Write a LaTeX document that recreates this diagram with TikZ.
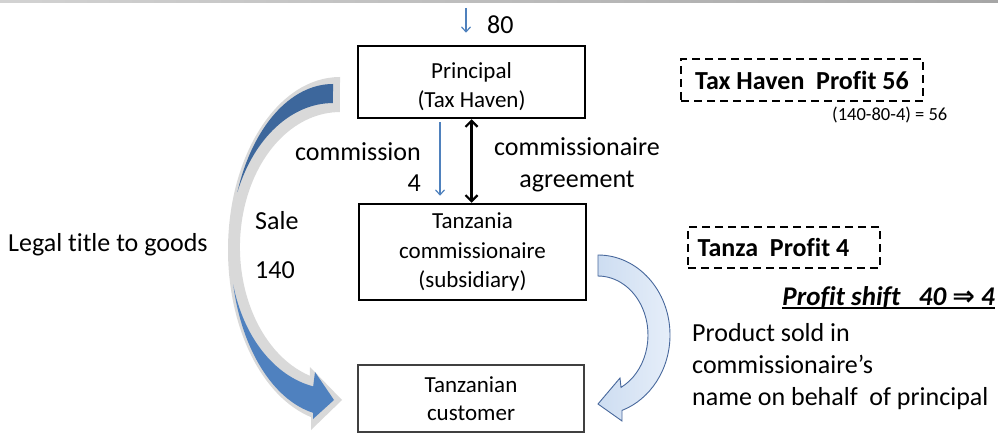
\documentclass[tikz,border=0pt]{standalone}
\usepackage{fontspec}
\setmainfont{Carlito}[Ligatures=NoCommon]
\newfontfamily\symfont{DejaVu Sans}
\usetikzlibrary{arrows.meta,calc}

\definecolor{arrowblue}{RGB}{79,129,189}
\definecolor{darkblue}{RGB}{61,103,156}
\definecolor{midblue}{RGB}{79,129,191}
\definecolor{halo}{RGB}{217,217,217}
\definecolor{paleblueA}{RGB}{205,221,241}
\definecolor{paleblueB}{RGB}{230,238,249}
\definecolor{outlineblue}{RGB}{72,104,156}

\tikzset{
  lbl/.style={inner sep=0pt, font=\fontsize{26}{31}\selectfont},
  solidbox/.style={draw, line width=2.5pt, minimum width=227pt, align=center,
    inner sep=0pt, font=\fontsize{23}{29.5}\selectfont},
  thinbox/.style={draw=black!75, line width=1.2pt, minimum width=226pt, align=center,
    inner sep=0pt, font=\fontsize{23}{28}\selectfont},
  dashbox/.style={draw, line width=1.8pt, dash pattern=on 8pt off 5pt, align=center,
    inner xsep=0pt, inner ysep=0pt, font=\fontsize{26}{31}\selectfont\bfseries},
  flow/.style={draw=arrowblue, line width=1.2pt, -{Straight Barb[length=5pt,width=9pt]}},
  agree/.style={draw=black, line width=2.2pt,
    {Straight Barb[length=6pt,width=12pt]}-{Straight Barb[length=6pt,width=12pt]}},
}

\begin{document}
\begin{tikzpicture}[x=1pt,y=1pt]
\useasboundingbox (0,0) rectangle (998,-433);

% thin shaded rule along the top edge
\shade[left color=gray!35, right color=gray!70] (0,0) rectangle (998,-3);

% boxes
\node[solidbox, minimum height=72pt] (principal) at (471.5,-82)
  {\rule{0pt}{25pt}Principal\\(Tax Haven)};
\node[solidbox, minimum height=96pt] (tanz) at (472.5,-252) {Tanzania\\commissionaire\\(subsidiary)};
\node[thinbox, minimum height=67pt] (cust) at (471,-398.5) {Tanzanian\\customer};

% incoming payment of 80
\coordinate (in1) at (466,-8);
\coordinate (in2) at ($(principal.north)+(-5.5,12)$);
\draw[flow] (in1) -- (in2);
\node[lbl, anchor=west] (eighty) at (487,-25) {80};

% commission and agreement between the two companies
\coordinate (cm1) at ($(principal.south)+(-31.5,-3)$);
\coordinate (cm2) at ($(tanz.north)+(-32.5,7)$);
\draw[flow] (cm1) -- (cm2);
\draw[agree] (principal.south) -- (principal.south |- tanz.north);

\node[lbl, anchor=east, align=right] (commission) at (421,-167.5) {commission\\4};
\node[lbl, align=center, font=\fontsize{26}{32}\selectfont] (agreement) at (577,-165) {commissionaire\\agreement};

% sale and legal title
\node[lbl, anchor=west, align=left, font=\fontsize{26}{49}\selectfont] (sale) at (255,-245.5) {Sale\\140};
\node[lbl, anchor=west] (title) at (8,-245) {Legal title to goods};

% curved block arrow: principal to customer
\coordinate (ca) at (333,-250);
\fill[halo] (340,-77) arc[start angle=90, end angle=255, x radius=112, y radius=173]
  -- (311,-430) -- (342,-400) -- (310,-367) -- (309.9,-375.8)
  arc[start angle=252.5, end angle=90, x radius=100, y radius=135] -- cycle;
\fill[darkblue] (333,-84) arc[start angle=90, end angle=159.6, x radius=102, y radius=166]
  arc[start angle=156.8, end angle=90, x radius=104, y radius=147] -- cycle;
\fill[midblue] ($(ca)+(192:102 and 166)$)
  arc[start angle=192, end angle=258.7, x radius=102, y radius=166]
  -- (313,-419) -- (334,-400) -- (315,-372) -- ($(ca)+(258.9:103 and 139)$)
  arc[start angle=258.9, end angle=194.4, x radius=103, y radius=139] -- cycle;

% curved block arrow: commissionaire to customer
\draw[outlineblue, line width=0.9pt, left color=paleblueA, right color=paleblueB]
  (598,-255) arc[start angle=90, end angle=-70.5, x radius=72, y radius=80]
  -- (622,-421) -- (598,-404) -- (620,-378) -- (621,-387.4)
  arc[start angle=-62.6, end angle=90, x radius=50, y radius=59] -- cycle;

% profit boxes
\node[dashbox, minimum width=242pt, minimum height=42pt] (haven) at (802,-80) {Tax Haven\ \ Profit 56};
\node[lbl, anchor=west, font=\fontsize{18.5}{22}\selectfont] (calc56) at (832,-115) {(140-80-4) = 56};
\node[dashbox, minimum width=192pt, minimum height=41pt] (tanza) at (784,-247.5) {\hspace*{-21pt}Tanza\ \ Profit 4};

\node[lbl, anchor=base east, font=\fontsize{27}{31}\selectfont\bfseries\itshape] (shift) at (995,-305)
  {Profit shift\ \ \ 40 {\symfont ⇒} 4};
\draw[line width=2pt] ($(shift.base west)+(0,-3)$) -- ($(shift.base east)+(0,-3)$);

\node[lbl, anchor=west, align=left, font=\fontsize{26}{32}\selectfont] (product) at (692,-367)
  {Product sold in\\commissionaire’s\\name on behalf\ \ of principal};
\end{tikzpicture}
\end{document}
